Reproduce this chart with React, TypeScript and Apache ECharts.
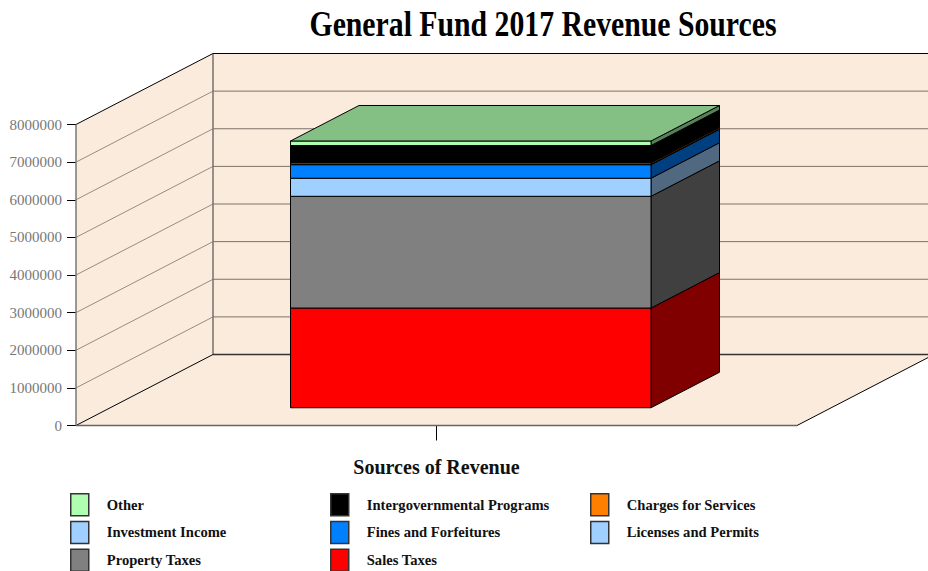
import React, { useEffect, useRef } from "react";
import * as echarts from "echarts";

const categories = ["General Fund 2017"];
const titleText = "General Fund 2017 Revenue Sources";
const axisTitle = "Sources of Revenue";
const tickValues = [1000000, 2000000, 3000000, 4000000, 5000000, 6000000, 7000000, 8000000];
// stacked bottom to top
const seriesNames = ["Sales Taxes", "Property Taxes", "Licenses and Permits", "Fines and Forfeitures", "Investment Income", "Charges for Services", "Intergovernmental Programs", "Other"];
const seriesValues = [2650000, 2970000, 480000, 360000, 10000, 40000, 460000, 120000];
const seriesColors = ["#ff0000", "#808080", "#a0d0ff", "#0080ff", "#a0d0ff", "#ff8000", "#000000", "#b0ffb0"];
const legendColumns = [
  ["Other", "Investment Income", "Property Taxes"],
  ["Intergovernmental Programs", "Fines and Forfeitures", "Sales Taxes"],
  ["Charges for Services", "Licenses and Permits"],
];

const DX = 137;
const DY = -71;
const WALL = "#fbebdd";
const GRID = "#7d7268";

const shade = (hex: string, f: number) => {
  const n = parseInt(hex.slice(1), 16);
  const c = [(n >> 16) & 255, (n >> 8) & 255, n & 255].map((v) => Math.round(v * f));
  return `rgb(${c[0]},${c[1]},${c[2]})`;
};

const line = (a: number[], b: number[], stroke: string, lineWidth = 1) => ({
  type: "line",
  shape: { x1: a[0], y1: a[1], x2: b[0], y2: b[1] },
  style: { stroke, lineWidth },
  silent: true,
});

const poly = (points: number[][], fill: string, stroke?: string, lineWidth = 1) => ({
  type: "polygon",
  shape: { points },
  style: { fill, stroke: stroke || "none", lineWidth },
  silent: true,
});

function renderWalls(params: any, api: any) {
  const c = params.coordSys;
  const l = c.x, r = c.x + c.width, t = c.y, b = c.y + c.height;
  const bl = l + DX, br = r + DX, bt = t + DY, bb = b + DY;
  return {
    type: "group",
    children: [
      poly([[bl, bt], [br, bt], [br, bb], [bl, bb]], WALL),
      poly([[l, t], [bl, bt], [bl, bb], [l, b]], WALL),
      poly([[l, b], [bl, bb], [br, bb], [r, b]], WALL),
      line([l, t], [bl, bt], "#000", 1),
      line([bl, bt], [br, bt], "#000", 1),
      line([bl, bt], [bl, bb], "#333", 1),
      line([bl, bb], [br, bb], "#333", 1.5),
      line([l, b], [bl, bb], "#000", 1),
      line([r, b], [br, bb], "#000", 1),
      line([l, t], [l, b], "#777", 1.5),
      line([l, b], [r, b], "#666", 1.5),
    ],
  };
}

function renderGrid(params: any, api: any) {
  const p = api.coord([0, api.value(0)]);
  const c = params.coordSys;
  const y = p[1];
  if (api.value(0) >= 8000000) return { type: "group", children: [] };
  return {
    type: "group",
    children: [
      line([c.x, y], [c.x + DX, y + DY], GRID, 0.8),
      line([c.x + DX, y + DY], [c.x + c.width + DX, y + DY], GRID, 1),
    ],
  };
}

const makeBarRender = (color: string, isTop: boolean) => (params: any, api: any) => {
  const low = api.coord([api.value(0), api.value(1)]);
  const high = api.coord([api.value(0), api.value(2)]);
  const band = api.size([1, 0])[0];
  const w = band * 0.5;
  const ox = DX * 0.25, oy = DY * 0.25;
  const dx = DX * 0.5, dy = DY * 0.5;
  const x0 = low[0] - w / 2 + ox;
  const x1 = x0 + w;
  const yb = low[1] + oy;
  const yt = high[1] + oy;
  const children: any[] = [
    poly([[x1, yb], [x1 + dx, yb + dy], [x1 + dx, yt + dy], [x1, yt]], shade(color, 0.5), "#000", 1),
    poly([[x0, yb], [x1, yb], [x1, yt], [x0, yt]], color, "#000", 1),
  ];
  if (isTop) {
    children.push(poly([[x0, yt], [x1, yt], [x1 + dx, yt + dy], [x0 + dx, yt + dy]], shade(color, 0.75), "#000", 1));
  }
  return { type: "group", children };
};

export default function App() {
  const ref = useRef<HTMLDivElement>(null);
  useEffect(() => {
    document.body.style.margin = "0";
    const chart = echarts.init(ref.current!, null, { renderer: "svg" });
    let sum = 0;
    const barSeries = seriesNames.map((name, i) => {
      const base = sum;
      sum += seriesValues[i];
      return {
        type: "custom",
        name,
        z: 5 + i,
        itemStyle: { color: seriesColors[i] },
        renderItem: makeBarRender(seriesColors[i], i === seriesNames.length - 1),
        encode: { x: 0, y: [1, 2] },
        data: [[0, base, sum]],
      };
    });
    const legendBase = {
      orient: "vertical",
      icon: "rect",
      itemWidth: 18,
      itemHeight: 22,
      itemGap: 4.2,
      height: 120,
      width: 230,
      selectedMode: false,
      padding: 0,
      itemStyle: { borderColor: "#333", borderWidth: 1.5 },
      textStyle: {
        fontFamily: "Liberation Serif",
        fontWeight: "bold",
        fontSize: 14.6,
        color: "#111",
        padding: [0, 0, 0, 13],
      },
    };
    chart.setOption({
      animation: false,
      backgroundColor: "#fff",
      graphic: [
        {
          type: "text",
          x: 543,
          y: 24,
          scaleX: 0.85,
          style: {
            text: titleText,
            align: "center",
            verticalAlign: "middle",
            fontFamily: "Liberation Serif",
            fontWeight: "bold",
            fontSize: 35,
            fill: "#000",
          },
        },
      ],
      legend: [
        { ...legendBase, left: 70, top: 493, data: legendColumns[0] },
        { ...legendBase, left: 330, top: 493, data: legendColumns[1] },
        { ...legendBase, left: 590, top: 493, data: legendColumns[2] },
      ],
      grid: { left: 76, right: 131, top: 124.5, bottom: 145.5 },
      xAxis: {
        type: "category",
        data: categories,
        axisLine: { show: false },
        axisTick: { show: true, alignWithLabel: true, length: 15, lineStyle: { color: "#000", width: 1 } },
        axisLabel: { show: false },
        name: axisTitle,
        nameLocation: "middle",
        nameGap: 31,
        nameTextStyle: { fontFamily: "Liberation Serif", fontWeight: "bold", fontSize: 20, color: "#111" },
      },
      yAxis: {
        type: "value",
        min: 0,
        max: 8000000,
        interval: 1000000,
        splitLine: { show: false },
        axisLine: { show: false },
        axisTick: { show: true, length: 9, lineStyle: { color: "#000", width: 1 } },
        axisLabel: {
          margin: 14,
          fontFamily: "Liberation Serif",
          fontSize: 15,
          color: "#777",
          formatter: (v: number) => String(v),
        },
      },
      series: [
        { type: "custom", name: "walls", z: 1, silent: true, renderItem: renderWalls, data: [[0]], encode: { y: 0 } },
        { type: "custom", name: "gridlines", z: 2, silent: true, renderItem: renderGrid, data: tickValues.map((v) => [v]), encode: { y: 0 } },
        ...barSeries,
      ],
    });
    return () => chart.dispose();
  }, []);
  return <div ref={ref} style={{ width: 928, height: 571 }} />;
}
